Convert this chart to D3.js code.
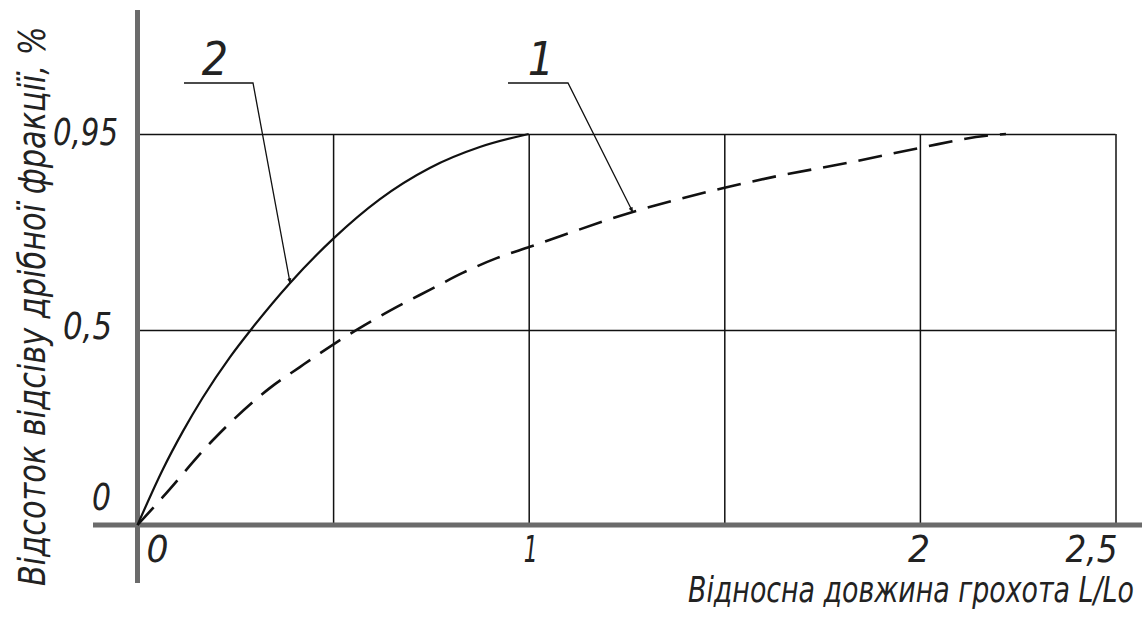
<!DOCTYPE html>
<html lang="uk">
<head>
<meta charset="UTF-8">
<title>Відсоток відсіву</title>
<script src="https://d3js.org/d3.v7.min.js"></script>
<style>
  body { margin: 0; background: #fff; }
  text { font-family: "DejaVu Sans Condensed", "Liberation Sans Narrow", sans-serif; font-style: oblique; fill: #222; }
</style>
</head>
<body>
<div id="chart"></div>
<script>
// data
var xTicks = [0, 0.5, 1, 1.5, 2, 2.5];
var xTickLabels = ["0", "", "1", "", "2", "2,5"];
var yTicks = [0, 0.5, 0.95];
var yTickLabels = ["0", "0,5", "0,95"];

// curve 2 (solid)
var curve2X = [0, 0.065, 0.116, 0.167, 0.236, 0.292, 0.390, 0.502, 0.619, 0.747, 0.875, 1.0];
var curve2Y = [0, 0.143, 0.240, 0.327, 0.430, 0.503, 0.608, 0.711, 0.800, 0.872, 0.920, 0.95];
// curve 1 (dashed)
var curve1X = [0, 0.065, 0.193, 0.338, 0.415, 0.502, 0.586, 0.663, 0.747, 0.831, 0.918, 1.003, 1.266, 1.498, 1.623, 1.828, 1.999, 2.17, 2.22];
var curve1Y = [0, 0.072, 0.218, 0.351, 0.405, 0.464, 0.514, 0.553, 0.592, 0.631, 0.665, 0.691, 0.771, 0.826, 0.851, 0.886, 0.918, 0.946, 0.95];

var W = 1142, H = 617;

var svg = d3.select("#chart").append("svg")
    .attr("width", W)
    .attr("height", H);

// y grid is evenly spaced although 0.5 and 0.95 are not
var x = d3.scaleLinear().domain([0, 2.5]).range([137.5, 1115.5]);
var y = d3.scaleLinear().domain([0, 0.5, 0.95]).range([525, 330, 134]);

// vertical grid lines
svg.append("g")
    .attr("transform", "translate(0," + y(0) + ")")
    .call(d3.axisBottom(x).tickValues(xTicks.slice(1)).tickSize(-(y(0) - y(0.95))).tickFormat(""))
    .call(function(g) { g.select(".domain").remove(); })
    .selectAll("line").attr("stroke", "#111").attr("stroke-width", 1.5);

// horizontal grid lines
svg.append("g")
    .attr("transform", "translate(" + x(0) + ",0)")
    .call(d3.axisLeft(y).tickValues(yTicks.slice(1)).tickSize(-(x(2.5) - x(0))).tickFormat(""))
    .call(function(g) { g.select(".domain").remove(); })
    .selectAll("line").attr("stroke", "#111").attr("stroke-width", 1.5);

// thick grey axes
svg.append("line")
    .attr("x1", 93).attr("x2", W)
    .attr("y1", y(0)).attr("y2", y(0))
    .attr("stroke", "#6b6b6b").attr("stroke-width", 5);
svg.append("line")
    .attr("x1", x(0)).attr("x2", x(0))
    .attr("y1", 10).attr("y2", 583)
    .attr("stroke", "#6b6b6b").attr("stroke-width", 5);

var line = d3.line()
    .x(function(d) { return x(d[0]); })
    .y(function(d) { return y(d[1]); })
    .curve(d3.curveMonotoneX);

svg.append("path")
    .datum(d3.zip(curve1X, curve1Y))
    .attr("d", line)
    .attr("fill", "none")
    .attr("stroke", "#111")
    .attr("stroke-width", 2.6)
    .attr("stroke-dasharray", "24,12");

svg.append("path")
    .datum(d3.zip(curve2X, curve2Y))
    .attr("d", line)
    .attr("fill", "none")
    .attr("stroke", "#111")
    .attr("stroke-width", 2.2);

// leader arrows
svg.append("defs").append("marker")
    .attr("id", "arr")
    .attr("viewBox", "0 0 10 10")
    .attr("refX", 9).attr("refY", 5)
    .attr("markerWidth", 4).attr("markerHeight", 4)
    .attr("orient", "auto")
    .append("path").attr("d", "M0,1L10,5L0,9z").attr("fill", "#111");

var leaders = [
    {label: "2", sx1: 184, sx2: 253, sy: 83, px: 0.390, py: 0.608, lx: 215},
    {label: "1", sx1: 508, sx2: 568, sy: 83, px: 1.266, py: 0.771, lx: 541}
];
leaders.forEach(function(l) {
    svg.append("polyline")
        .attr("points", [[l.sx1, l.sy], [l.sx2, l.sy], [x(l.px), y(l.py)]].join(" "))
        .attr("fill", "none")
        .attr("stroke", "#111")
        .attr("stroke-width", 1.3)
        .attr("marker-end", "url(#arr)");
    svg.append("text")
        .attr("x", l.lx).attr("y", 75)
        .attr("text-anchor", "middle")
        .style("font-size", "46px")
        .text(l.label);
});

// y tick labels
var yLabelPos = [{x: 111, y: 510, w: 19}, {x: 112, y: 339, w: 49}, {x: 118, y: 145, w: 65}];
yTicks.forEach(function(t, i) {
    svg.append("text")
        .attr("x", yLabelPos[i].x).attr("y", yLabelPos[i].y)
        .attr("text-anchor", "end")
        .attr("textLength", yLabelPos[i].w)
        .attr("lengthAdjust", "spacingAndGlyphs")
        .style("font-size", "38px")
        .text(yTickLabels[i]);
});

// x tick labels
var xLabelShift = [20, 0, 2, 0, -1, 2];
xTicks.forEach(function(t, i) {
    if (!xTickLabels[i]) return;
    svg.append("text")
        .attr("x", x(t) + xLabelShift[i]).attr("y", 562)
        .attr("text-anchor", i === 5 ? "end" : "middle")
        .style("font-size", "38px")
        .attr("textLength", i === 5 ? 52 : (i === 2 ? 14 : 22))
        .attr("lengthAdjust", "spacingAndGlyphs")
        .text(xTickLabels[i]);
});

// axis titles, squeezed horizontally to the narrow drafting look
function narrow(sel, len, base) {
    var w = sel.node().getComputedTextLength();
    sel.attr("transform", base + " scale(" + (len / w) + ",1)");
}

var xTitle = svg.append("text")
    .style("font-size", "36px")
    .text("Відносна довжина грохота L/Lo");
narrow(xTitle, 446, "translate(688,602)");

var yTitle = svg.append("text")
    .style("font-size", "37px")
    .text("Відсоток відсіву дрібної фракції, %");
narrow(yTitle, 560, "translate(45,586) rotate(-90)");
</script>
</body>
</html>
